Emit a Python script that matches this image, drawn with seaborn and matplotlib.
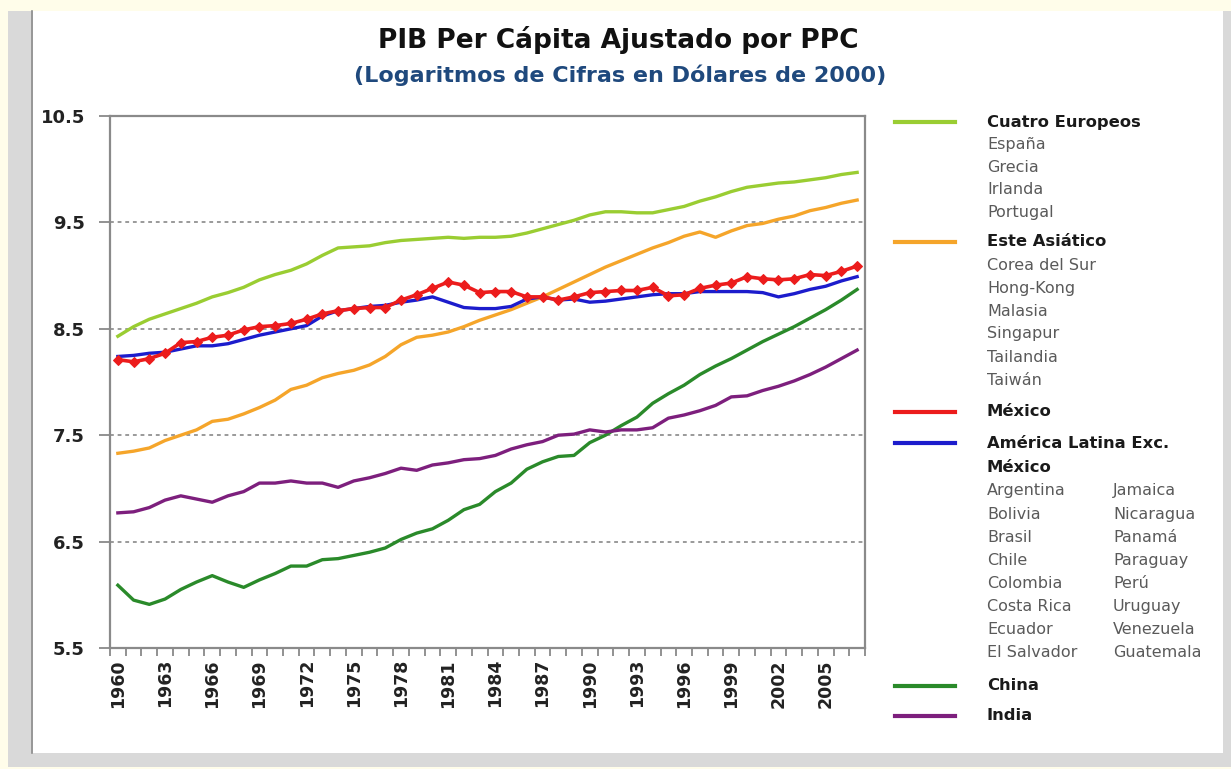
import numpy as np
import pandas as pd
import matplotlib
matplotlib.use("Agg")
import matplotlib.pyplot as plt
from matplotlib.patches import Rectangle
from matplotlib.lines import Line2D
import seaborn as sns

# Data (log of GDP per capita, PPP, 2000 dollars)
years = list(range(1960, 2008))

europeos = [8.43, 8.52, 8.59, 8.64, 8.69, 8.74, 8.80, 8.84, 8.89, 8.96,
            9.01, 9.05, 9.11, 9.19, 9.26, 9.27, 9.28, 9.31, 9.33, 9.34,
            9.35, 9.36, 9.35, 9.36, 9.36, 9.37, 9.40, 9.44, 9.48, 9.52,
            9.57, 9.60, 9.60, 9.59, 9.59, 9.62, 9.65, 9.70, 9.74, 9.79,
            9.83, 9.85, 9.87, 9.88, 9.90, 9.92, 9.95, 9.97]

asia = [7.33, 7.35, 7.38, 7.45, 7.50, 7.55, 7.63, 7.65, 7.70, 7.76,
        7.83, 7.93, 7.97, 8.04, 8.08, 8.11, 8.16, 8.24, 8.35, 8.42,
        8.44, 8.47, 8.52, 8.58, 8.63, 8.68, 8.74, 8.80, 8.87, 8.94,
        9.01, 9.08, 9.14, 9.20, 9.26, 9.31, 9.37, 9.41, 9.36, 9.42,
        9.47, 9.49, 9.53, 9.56, 9.61, 9.64, 9.68, 9.71]

mexico = [8.21, 8.19, 8.22, 8.27, 8.37, 8.38, 8.42, 8.44, 8.49, 8.52,
          8.53, 8.55, 8.59, 8.64, 8.67, 8.69, 8.70, 8.70, 8.77, 8.82,
          8.88, 8.94, 8.91, 8.84, 8.85, 8.85, 8.80, 8.80, 8.77, 8.80,
          8.84, 8.85, 8.86, 8.86, 8.89, 8.81, 8.82, 8.88, 8.91, 8.93,
          8.99, 8.97, 8.96, 8.97, 9.01, 9.00, 9.04, 9.09]

latam = [8.24, 8.25, 8.27, 8.28, 8.31, 8.34, 8.34, 8.36, 8.40, 8.44,
         8.47, 8.50, 8.53, 8.62, 8.67, 8.69, 8.71, 8.72, 8.75, 8.77,
         8.80, 8.75, 8.70, 8.69, 8.69, 8.71, 8.78, 8.80, 8.77, 8.78,
         8.75, 8.76, 8.78, 8.80, 8.82, 8.83, 8.83, 8.85, 8.85, 8.85,
         8.85, 8.84, 8.80, 8.83, 8.87, 8.90, 8.95, 8.99]

china = [6.09, 5.95, 5.91, 5.96, 6.05, 6.12, 6.18, 6.12, 6.07, 6.14,
         6.20, 6.27, 6.27, 6.33, 6.34, 6.37, 6.40, 6.44, 6.52, 6.58,
         6.62, 6.70, 6.80, 6.85, 6.97, 7.05, 7.18, 7.25, 7.30, 7.31,
         7.43, 7.50, 7.59, 7.67, 7.80, 7.89, 7.97, 8.07, 8.15, 8.22,
         8.30, 8.38, 8.45, 8.52, 8.60, 8.68, 8.77, 8.87]

india = [6.77, 6.78, 6.82, 6.89, 6.93, 6.90, 6.87, 6.93, 6.97, 7.05,
         7.05, 7.07, 7.05, 7.05, 7.01, 7.07, 7.10, 7.14, 7.19, 7.17,
         7.22, 7.24, 7.27, 7.28, 7.31, 7.37, 7.41, 7.44, 7.50, 7.51,
         7.55, 7.53, 7.55, 7.55, 7.57, 7.66, 7.69, 7.73, 7.78, 7.86,
         7.87, 7.92, 7.96, 8.01, 8.07, 8.14, 8.22, 8.30]

series = {
    "Cuatro Europeos": europeos,
    "Este Asiático": asia,
    "América Latina Exc. México": latam,
    "México": mexico,
    "China": china,
    "India": india,
}
colors = {
    "Cuatro Europeos": "#9acd32",
    "Este Asiático": "#f5a52a",
    "América Latina Exc. México": "#1c1ccc",
    "México": "#ec1c1c",
    "China": "#2a8a2a",
    "India": "#7d1f7d",
}

df = pd.concat(
    [pd.DataFrame({"Año": years, "Valor": v, "Serie": k}) for k, v in series.items()],
    ignore_index=True,
)

W, H = 1231, 769
fig = plt.figure(figsize=(W / 100, H / 100), dpi=100, facecolor="#fffdea")

def fx(x):
    return x / W

def fy(y):
    return 1 - y / H

# slide-like frame
fig.add_artist(Rectangle((fx(8), fy(767)), fx(1231) - fx(8), fy(11) - fy(767),
                         transform=fig.transFigure, facecolor="#d9d9d9", edgecolor="none", zorder=0))
fig.add_artist(Rectangle((fx(33), fy(753)), fx(1223) - fx(33), fy(11) - fy(753),
                         transform=fig.transFigure, facecolor="white", edgecolor="none", zorder=0))
fig.add_artist(Line2D([fx(32), fx(32)], [fy(753), fy(11)], transform=fig.transFigure,
                      color="#8c8c8c", lw=1.2, zorder=1))

ax = fig.add_axes([fx(110), fy(648), fx(865) - fx(110), fy(116) - fy(648)])
ax.set_facecolor("white")

for name in series:
    sub = df[df["Serie"] == name]
    if name == "México":
        sns.lineplot(data=sub, x="Año", y="Valor", ax=ax, color=colors[name], lw=2.6,
                     marker="D", markersize=5, markeredgecolor=colors[name], zorder=4)
    else:
        sns.lineplot(data=sub, x="Año", y="Valor", ax=ax, color=colors[name], lw=2.4, zorder=3)

ax.set_xlim(1959.5, 2007.5)
ax.set_ylim(5.5, 10.5)
ax.set_xlabel("")
ax.set_ylabel("")

ax.set_yticks([5.5, 6.5, 7.5, 8.5, 9.5, 10.5])
ax.set_yticklabels(["5.5", "6.5", "7.5", "8.5", "9.5", "10.5"], fontsize=13,
                   fontweight="bold", color="#222222")
for yv in [6.5, 7.5, 8.5, 9.5]:
    ax.axhline(yv, color="#7f7f7f", lw=1.1, ls=(0, (2.5, 2.5)), zorder=1)

label_years = list(range(1960, 2006, 3))
ax.set_xticks(label_years)
ax.set_xticklabels([str(y) for y in label_years], rotation=90, fontsize=12.5,
                   fontweight="bold", color="#222222")
ax.set_xticks(np.arange(1959.5, 2008, 1.0), minor=True)
ax.tick_params(axis="x", which="major", length=0, pad=8)
ax.tick_params(axis="x", which="minor", length=6, width=1.2, color="#7f7f7f")
ax.tick_params(axis="y", which="major", length=8, width=1.2, color="#7f7f7f", pad=10)

for s in ax.spines.values():
    s.set_color("#8a8a8a")
    s.set_linewidth(1.6)

# titles
fig.text(fx(618), fy(40), "PIB Per Cápita Ajustado por PPC", ha="center", va="center",
         fontsize=19, fontweight="bold", color="#111111")
fig.text(fx(620), fy(75), "(Logaritmos de Cifras en Dólares de 2000)", ha="center", va="center",
         fontsize=16, fontweight="bold", color="#1f497d")

# custom legend
lx0, lx1, tx, tx2 = 895, 955, 987, 1113
bold_kw = dict(fontsize=11.8, fontweight="bold", color="#1a1a1a", va="center", ha="left")
reg_kw = dict(fontsize=11.5, color="#5a5a5a", va="center", ha="left")

def key(y, name):
    fig.add_artist(Line2D([fx(lx0), fx(lx1)], [fy(y), fy(y)], transform=fig.transFigure,
                          color=colors[name], lw=3))

key(122, "Cuatro Europeos")
fig.text(fx(tx), fy(122), "Cuatro Europeos", **bold_kw)
for i, c in enumerate(["España", "Grecia", "Irlanda", "Portugal"]):
    fig.text(fx(tx), fy(144 + 23 * i), c, **reg_kw)

key(242, "Este Asiático")
fig.text(fx(tx), fy(242), "Este Asiático", **bold_kw)
for i, c in enumerate(["Corea del Sur", "Hong-Kong", "Malasia", "Singapur", "Tailandia", "Taiwán"]):
    fig.text(fx(tx), fy(265 + 23 * i), c, **reg_kw)

key(412, "México")
fig.text(fx(tx), fy(412), "México", **bold_kw)

key(443, "América Latina Exc. México")
fig.text(fx(tx), fy(443), "América Latina Exc.", **bold_kw)
fig.text(fx(tx), fy(467), "México", **bold_kw)
col1 = ["Argentina", "Bolivia", "Brasil", "Chile", "Colombia", "Costa Rica", "Ecuador", "El Salvador"]
col2 = ["Jamaica", "Nicaragua", "Panamá", "Paraguay", "Perú", "Uruguay", "Venezuela", "Guatemala"]
for i, (a, b) in enumerate(zip(col1, col2)):
    fig.text(fx(tx), fy(491 + 23.1 * i), a, **reg_kw)
    fig.text(fx(tx2), fy(491 + 23.1 * i), b, **reg_kw)

key(686, "China")
fig.text(fx(tx), fy(686), "China", **bold_kw)
key(716, "India")
fig.text(fx(tx), fy(716), "India", **bold_kw)

fig.savefig("out.png", dpi=100, facecolor=fig.get_facecolor())
